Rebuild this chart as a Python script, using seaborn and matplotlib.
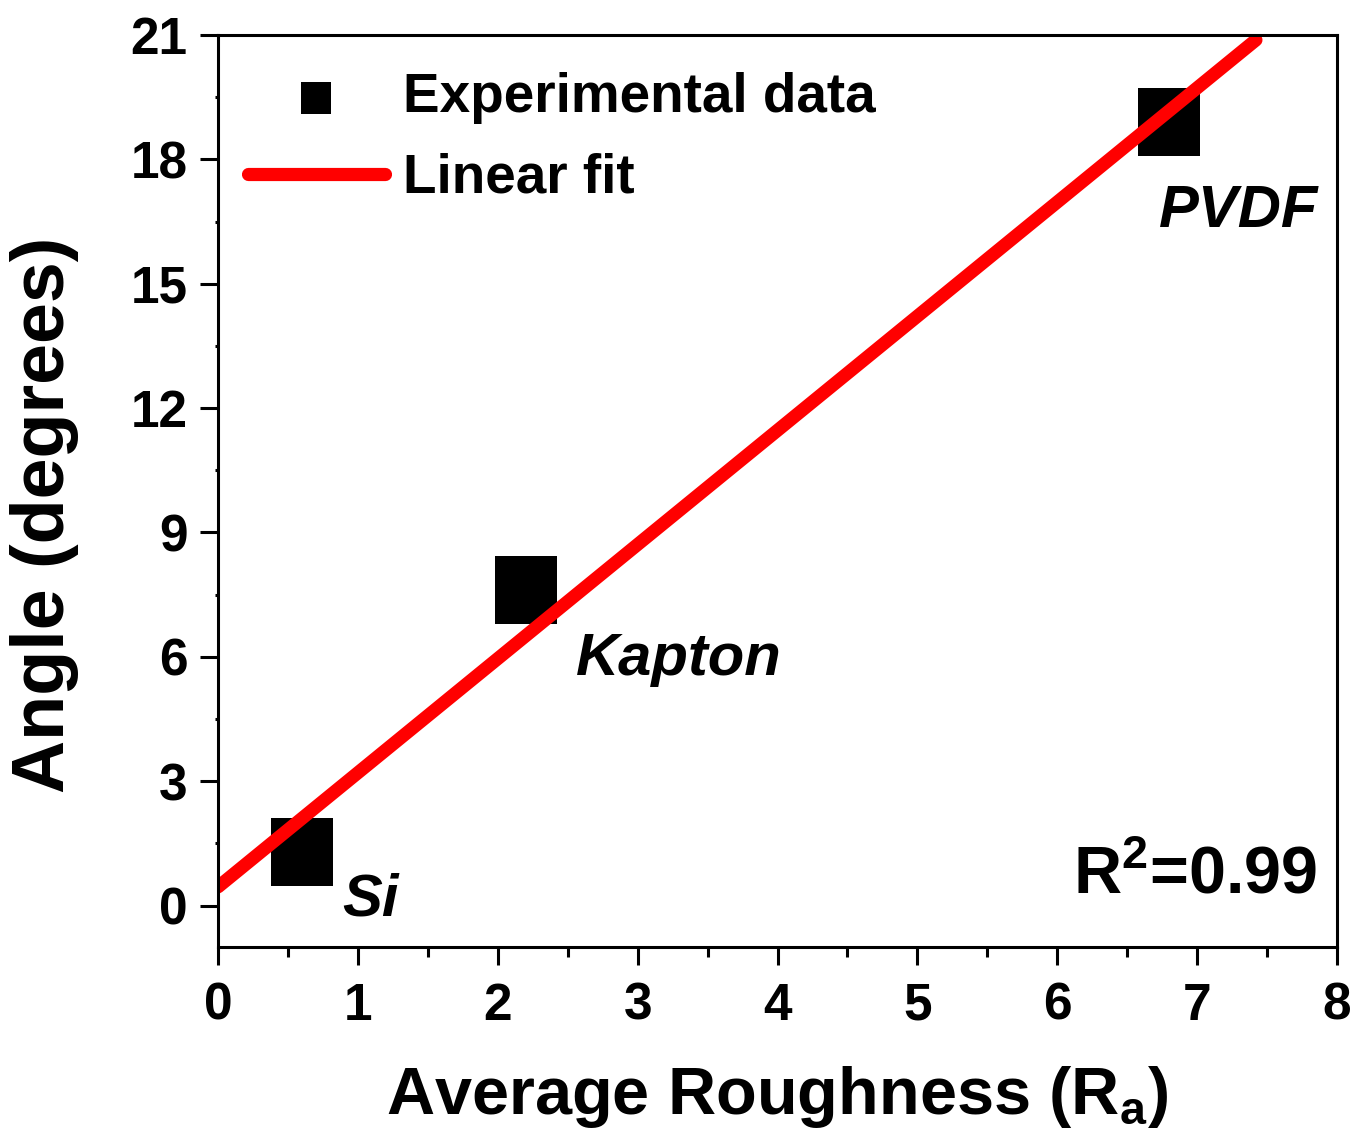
import numpy as np
import pandas as pd
import seaborn as sns
import matplotlib.pyplot as plt
from matplotlib.markers import MarkerStyle
from matplotlib.ticker import MultipleLocator

# values
samples = ["Si", "Kapton", "PVDF"]
roughness = [0.6, 2.2, 6.8]
angle = [1.3, 7.6, 18.9]

# linear fit endpoints (R^2 = 0.99)
fit_x = [0.0, 7.42]
fit_y = [0.45, 20.88]

x_ticks = [0, 1, 2, 3, 4, 5, 6, 7, 8]
y_ticks = [0, 3, 6, 9, 12, 15, 18, 21]

sns.set_theme(style="ticks")
plt.rcParams['font.family'] = ['Liberation Sans', 'DejaVu Sans']
plt.rcParams['font.weight'] = 'bold'
plt.rcParams['text.color'] = 'black'
plt.rcParams['axes.labelcolor'] = 'black'
plt.rcParams['xtick.color'] = 'black'
plt.rcParams['ytick.color'] = 'black'
plt.rcParams['mathtext.fontset'] = 'custom'
plt.rcParams['mathtext.rm'] = 'Liberation Sans:bold'
plt.rcParams['mathtext.bf'] = 'Liberation Sans:bold'
plt.rcParams['mathtext.it'] = 'Liberation Sans:bold:italic'

df = pd.DataFrame({"sample": samples, "x": roughness, "y": angle})
fit = pd.DataFrame({"x": fit_x, "y": fit_y})

fig = plt.figure(figsize=(13.57, 11.47), dpi=100)
ax = fig.add_axes([0.1607, 0.1744, 0.8246, 0.7951])

# the squares in the original are a little taller than wide
box = MarkerStyle([(-0.45, -0.5), (0.45, -0.5), (0.45, 0.5), (-0.45, 0.5), (-0.45, -0.5)])

sns.lineplot(data=fit, x="x", y="y", ax=ax, color="#ff0000", linewidth=9.5,
             solid_capstyle="round", label="Linear fit", zorder=2)
sns.scatterplot(data=df, x="x", y="y", ax=ax, marker=box, s=49**2, color="black",
                edgecolor="black", linewidth=0, label="Experimental data", zorder=1)

# sample labels
offsets = {"Si": (0.29, -1.54), "Kapton": (0.36, -2.05), "PVDF": (-0.07, -2.53)}
for s, xv, yv in zip(samples, roughness, angle):
    dx, dy = offsets[s]
    ax.text(xv + dx, yv + dy, s, fontsize=43, fontstyle="italic", fontweight="bold",
            ha="left", va="baseline")

ax.text(7.86, 0.29, r"R$^{2}$=0.99", fontsize=48, fontweight="bold",
        ha="right", va="baseline")

ax.set_xlim(0, 8)
ax.set_ylim(-1, 21)
ax.set_xticks(x_ticks)
ax.set_yticks(y_ticks)
ax.xaxis.set_minor_locator(MultipleLocator(0.5))
ax.yaxis.set_minor_locator(MultipleLocator(1.5))

ax.set_xlabel(r"Average Roughness (R$_\mathrm{a}$)", fontsize=48, fontweight="bold", labelpad=24)
ax.set_ylabel("Angle (degrees)", fontsize=53, fontweight="bold")
ax.yaxis.set_label_coords(-0.124, 0.474)

for sp in ax.spines.values():
    sp.set_linewidth(2.2)
    sp.set_color("black")
    sp.set_visible(True)

ax.tick_params(axis="both", which="major", direction="out", length=13, width=2.2,
               labelsize=37, color="black", labelcolor="black")
ax.tick_params(axis="x", which="major", pad=12)
ax.tick_params(axis="y", which="major", pad=9)
ax.tick_params(axis="x", which="minor", direction="out", length=7, width=2.2, color="black")
ax.tick_params(axis="y", which="minor", direction="out", length=2, width=2.2, color="black")
for lab in ax.get_xticklabels() + ax.get_yticklabels():
    lab.set_fontweight("bold")

handles, labels = ax.get_legend_handles_labels()
order = [labels.index("Experimental data"), labels.index("Linear fit")]
leg = ax.legend([handles[i] for i in order], [labels[i] for i in order],
                loc="upper left", bbox_to_anchor=(-0.003, 0.995), frameon=False,
                fontsize=39.5, markerscale=0.48, handlelength=2.5, handletextpad=0.33,
                labelspacing=0.52, borderaxespad=0.4, borderpad=0.2)

fig.savefig("out.png", dpi=100, facecolor="white")
